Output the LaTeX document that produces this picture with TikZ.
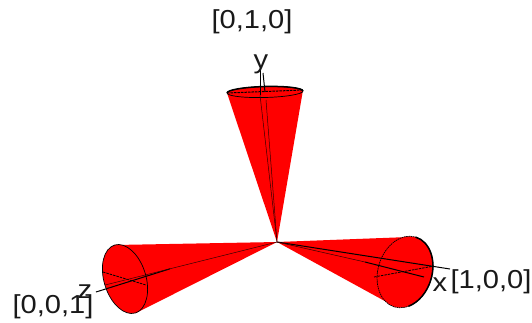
\documentclass[tikz,border=0pt]{standalone}
\usepackage{fontspec}
\setmainfont[FakeStretch=1.12]{Liberation Sans}
\tikzset{
  conefill/.style={fill=red,draw=none},
  rim/.style={draw=black,line width=0.7pt},
  heavyrim/.style={draw=black,line width=1.5pt},
  axisline/.style={draw=black,line width=1pt},
  thinaxis/.style={draw=black!80!red,line width=0.5pt},
  chord/.style={draw=black,line width=0.8pt,dash pattern=on 2.5pt off 1pt},
  lab/.style={font=\fontsize{26pt}{28pt}\selectfont,text=black!90,inner sep=0pt}
}
\begin{document}
\begin{tikzpicture}[x=1pt,y=-1pt]
\useasboundingbox (0,0) rectangle (532,322);
\coordinate (O) at (277,242);
% top cone
\fill[conefill] (O) -- (227,93) -- (303,90) -- cycle;
\fill[conefill,rotate around={1.5:(265,92)}] (265,92) ellipse (38 and 5.5);
\draw[heavyrim,rotate around={1.5:(265,92)}] (227,92) arc[start angle=180,end angle=360,x radius=38,y radius=5.5];
\draw[rim,rotate around={1.5:(265,92)}] (265,92) ellipse (38 and 5.5);
\draw[chord,line width=1pt] (227,93) -- (303,90);
% left cone
\fill[conefill] (O) -- (115,245) -- (104,275) -- (136,313) -- cycle;
\fill[conefill,rotate around={17:(125,279)}] (125,279) ellipse (21 and 35.5);
\draw[rim,rotate around={17:(125,279)}] (125,279) ellipse (21 and 35.5);
\draw[chord] (103,272) -- (146,285);
% right cone
\fill[conefill] (O) -- (409,237) -- (432,262) -- (392,305) -- cycle;
\fill[conefill,rotate around={-17:(405,272)}] (405,272) ellipse (27 and 36.5);
\draw[rim,dash pattern=on 1.5pt off 0.7pt,rotate around={-17:(405,272)}] (405,272) ellipse (27 and 36.5);
\draw[heavyrim,rotate around={-17:(405,272)}] (405,235.5) arc[start angle=-90,end angle=60,x radius=27,y radius=36.5];
\draw[chord] (374,277) -- (434,266);
% axes
\coordinate (Yend) at (260,70);
\coordinate (Ytwo) at (263,73);
\coordinate (Zend) at (96,292);
\coordinate (Ztwo) at (105,285);
\coordinate (Xend) at (450,269);
\coordinate (Xtwo) at (424,277);
\draw[thinaxis] (O) -- (260,95);
\draw[axisline] (260,95) -- (Yend);
\draw[thinaxis] (O) -- (266,100);
\draw[axisline] (265,92) -- (Ytwo);
\draw[axisline] (170,268.8) -- (Zend);
\draw[thinaxis] (O) -- (Ztwo);
\draw[axisline] (O) -- (Xend);
\draw[axisline] (365,262) -- (Xtwo);
\draw[thinaxis] (O) -- (365,262);
% labels
\node[lab] (ly) at (261,64) {y};
\node[lab] (lz) at (85,292) {z};
\node[lab] (lx) at (440,285) {x};
\node[lab] (top) at (252,22) {[0,1,0]};
\node[lab] (left) at (53,307) {[0,0,1]};
\node[lab] (right) at (491,282) {[1,0,0]};
\end{tikzpicture}
\end{document}
